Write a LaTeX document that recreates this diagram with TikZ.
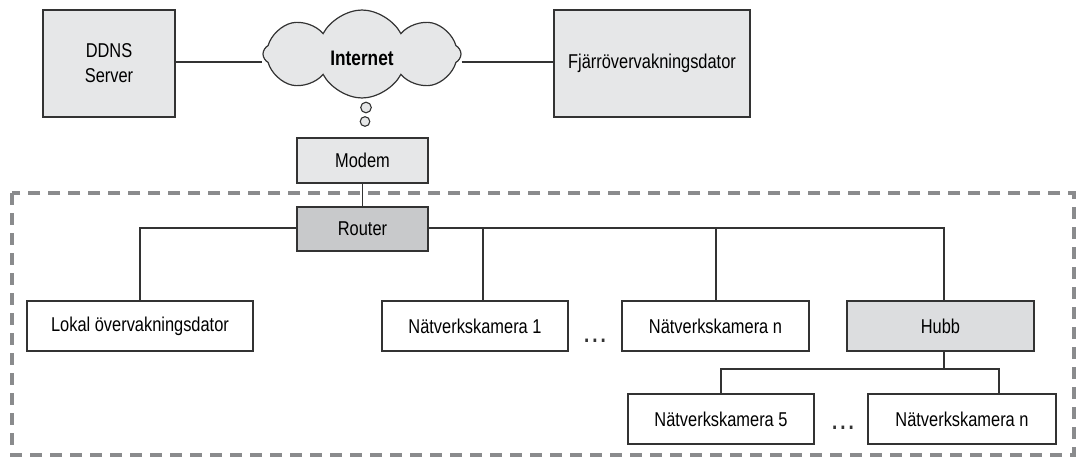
\documentclass[tikz,border=0pt]{standalone}
\usepackage{fontspec}
\setmainfont{Liberation Sans}[FakeStretch=0.82]
\usetikzlibrary{shapes.symbols,calc}
\definecolor{boxlight}{HTML}{E6E7E8}
\definecolor{boxdark}{HTML}{C8C9CB}
\definecolor{boxmid}{HTML}{DCDDDF}
\definecolor{wire}{HTML}{333333}
\definecolor{lanframe}{HTML}{8A8B8D}
\begin{document}
\begin{tikzpicture}[x=1pt,y=-1pt,
  font=\fontsize{20}{25}\selectfont,
  device/.style={draw=wire,line width=1.2pt,minimum height=50pt,inner sep=0pt,align=center},
  link/.style={draw=wire,line width=1.1pt},
  ellipsis/.style={anchor=base,inner sep=0pt,text=wire,font=\fontsize{23}{25}\selectfont\bfseries}]
\useasboundingbox (0,0) rectangle (1079,460);

% LAN boundary
\draw[lanframe,line width=3.5pt,dash pattern=on 12pt off 8pt] (12,193) rectangle (1074,455);

% WAN side
\node[device,fill=boxlight,minimum width=132pt,minimum height=107pt] (ddns) at (109,63.5) {DDNS\\Server};
\node[device,fill=boxlight,minimum width=196pt,minimum height=107pt] (remote) at (652,63.5) {Fjärrövervakningsdator};
\node[cloud,cloud puffs=8,cloud puff arc=125,aspect=2.1,draw=wire,line width=1.2pt,fill=boxlight,
      minimum width=198pt,minimum height=88pt,inner sep=0pt] (inet) at (362,54) {};
\node[font=\fontsize{21}{25}\selectfont\bfseries] at (362,58) {Internet};
\draw[link,fill=boxlight] (366,107.5) circle (5.3pt);
\draw[link,fill=boxlight] (365,121.5) circle (4.8pt);

\node[device,fill=boxlight,minimum width=131pt,minimum height=45pt] (modem) at (362.5,160.5) {Modem};
\node[device,fill=boxdark,minimum width=131pt,minimum height=44pt] (router) at (362.5,229) {Router};

% LAN devices
\node[device,fill=white,minimum width=226pt] (local) at (140,326) {Lokal övervakningsdator};
\node[device,fill=white,minimum width=186pt] (cam1) at (475,326) {Nätverkskamera 1};
\node[device,fill=white,minimum width=187pt] (camn) at (715.5,326) {Nätverkskamera n};
\node[device,fill=boxmid,minimum width=187pt] (hub) at (940.5,326) {Hubb};
\node[device,fill=white,minimum width=186pt] (cam5) at (721,419) {Nätverkskamera 5};
\node[device,fill=white,minimum width=188pt] (camm) at (962,419) {Nätverkskamera n};

\node[ellipsis] (dotsa) at (595,342) {.\hspace{3pt}.\hspace{3pt}.};
\node[ellipsis] (dotsb) at (843,429) {.\hspace{3pt}.\hspace{3pt}.};

% bus taps
\coordinate (tap1) at (483,228);
\coordinate (tapn) at (716,228);
\coordinate (taph) at (944,228);
\coordinate (hubbus) at (944,369);
\coordinate (tapm) at (999,369);

% wiring
\draw[link] (ddns.east |- 0,62) -- (inet.west |- 0,62);
\draw[link] (inet.east |- 0,62) -- (remote.west |- 0,62);
\draw[link] (modem.south) -- (router.north);
\draw[link] (router.west |- 0,228) -| (local.north);
\draw[link] (router.east |- 0,228) -- (taph) -- (taph |- hub.north);
\draw[link] (tap1) -- (tap1 |- cam1.north);
\draw[link] (tapn) -- (tapn |- camn.north);
\draw[link] (taph |- hub.south) -- (hubbus);
\draw[link] (cam5.north) |- (tapm) -- (tapm |- camm.north);
\end{tikzpicture}
\end{document}
